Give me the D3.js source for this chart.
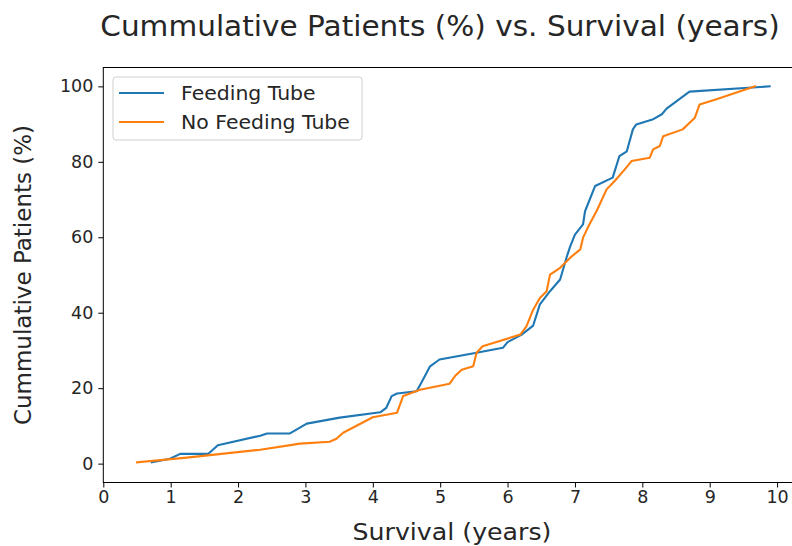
<!DOCTYPE html>
<html>
<head>
<meta charset="utf-8">
<script src="https://cdn.jsdelivr.net/npm/d3@7"></script>
<style>
  html, body { margin: 0; padding: 0; background: #fff; }
  svg { display: block; font-family: "DejaVu Sans", sans-serif; }
</style>
</head>
<body>
<svg id="chart" width="792" height="546"></svg>
<script>
// Survival (years) and cumulative share of patients (%) for each group
const feedingYears = [0.72, 0.99, 1.14, 1.56, 1.70, 2.33, 2.43, 2.77, 3.02, 3.51, 4.11, 4.20, 4.28, 4.36, 4.65, 4.70, 4.85, 4.99, 5.54, 5.93, 6.00, 6.21, 6.38, 6.48, 6.63, 6.78, 6.88, 6.93, 7.00, 7.12, 7.15, 7.30, 7.56, 7.66, 7.77, 7.86, 7.91, 8.15, 8.29, 8.36, 8.70, 9.89];
const feedingPct   = [0.35, 1.3, 2.6, 2.6, 4.9, 7.4, 8.0, 8.0, 10.6, 12.2, 13.6, 14.8, 17.9, 18.6, 19.2, 20.8, 25.8, 27.6, 29.4, 30.7, 32.2, 34.2, 36.6, 42.2, 45.7, 48.8, 54.9, 57.6, 60.7, 63.4, 66.9, 73.6, 75.8, 81.5, 82.8, 88.6, 89.9, 91.2, 92.6, 94.1, 98.6, 100];

const noFeedingYears = [0.50, 1.24, 2.33, 2.92, 3.36, 3.46, 3.56, 4.00, 4.36, 4.45, 4.70, 5.14, 5.22, 5.32, 5.49, 5.54, 5.63, 6.19, 6.28, 6.38, 6.48, 6.58, 6.63, 6.78, 6.93, 7.08, 7.12, 7.22, 7.32, 7.47, 7.59, 7.74, 7.84, 8.11, 8.16, 8.26, 8.31, 8.60, 8.78, 8.85, 9.10, 9.67];
const noFeedingPct   = [0.35, 1.6, 3.7, 5.3, 5.8, 6.6, 8.2, 12.3, 13.5, 17.9, 19.6, 21.2, 23.2, 24.9, 25.8, 29.4, 31.1, 34.2, 36.4, 40.8, 43.9, 45.7, 50.1, 51.9, 54.6, 56.8, 59.9, 63.6, 66.9, 72.7, 74.9, 78.0, 80.2, 81.1, 83.3, 84.2, 86.8, 88.6, 91.7, 95.2, 96.6, 100];

const seriesNames = ["Feeding Tube", "No Feeding Tube"];
const xTicks = [0, 1, 2, 3, 4, 5, 6, 7, 8, 9, 10];
const yTicks = [0, 20, 40, 60, 80, 100];

const series = [
  { name: seriesNames[0], color: "#1f77b4", pts: feedingYears.map((x, i) => [x, feedingPct[i]]) },
  { name: seriesNames[1], color: "#ff7f0e", pts: noFeedingYears.map((x, i) => [x, noFeedingPct[i]]) }
];

const svg = d3.select("#chart");
const plot = { left: 103.3, right: 802, top: 67.5, bottom: 482.5 };
const textColor = "#262626";
const wide = 1.075; // horizontal text stretch

const x = d3.scaleLinear().domain([0, 10.37]).range([plot.left, plot.right]);
const y = d3.scaleLinear().domain([-5, 105]).range([plot.bottom, plot.top]);

// Axes
const xAxis = svg.append("g")
  .attr("transform", `translate(0,${plot.bottom})`)
  .call(d3.axisBottom(x).tickValues(xTicks).tickFormat(d3.format("d")).tickSize(5).tickPadding(3));
const yAxis = svg.append("g")
  .attr("transform", `translate(${plot.left},0)`)
  .call(d3.axisLeft(y).tickValues(yTicks).tickFormat(d3.format("d")).tickSize(5).tickPadding(5));

[xAxis, yAxis].forEach(g => {
  g.select(".domain").remove();
  g.selectAll(".tick line").attr("stroke", "#000").attr("stroke-width", 1);
  g.selectAll(".tick text").attr("fill", textColor).style("font-size", "17.5px").style("font-family", "DejaVu Sans");
});

// Frame
svg.append("rect")
  .attr("x", plot.left).attr("y", plot.top)
  .attr("width", plot.right - plot.left).attr("height", plot.bottom - plot.top)
  .attr("fill", "none").attr("stroke", "#000").attr("stroke-width", 1);

// Lines
const line = d3.line().x(d => x(d[0])).y(d => y(d[1]));
svg.append("g").selectAll("path").data(series).join("path")
  .attr("d", d => line(d.pts))
  .attr("fill", "none")
  .attr("stroke", d => d.color)
  .attr("stroke-width", 2.1)
  .attr("stroke-linejoin", "round")
  .attr("stroke-linecap", "square");

// Horizontal text helper with a slight widening
function label(px, py, str, size, anchor) {
  return svg.append("text")
    .attr("transform", `translate(${px},${py}) scale(${wide},1)`)
    .attr("text-anchor", anchor).attr("fill", textColor)
    .style("font-size", size + "px")
    .text(str);
}

// Legend
const legend = svg.append("g");
legend.append("rect")
  .attr("x", 113).attr("y", 77).attr("width", 249).attr("height", 63)
  .attr("rx", 3).attr("fill", "#fff").attr("fill-opacity", 0.8)
  .attr("stroke", "#d0d0d0").attr("stroke-width", 1);
series.forEach((s, i) => {
  const yy = 93 + i * 29;
  legend.append("line")
    .attr("x1", 119).attr("x2", 164).attr("y1", yy).attr("y2", yy)
    .attr("stroke", s.color).attr("stroke-width", 2.1);
  label(181, yy + 7, s.name, 19, "start");
});

// Titles
label(440, 36, "Cummulative Patients (%) vs. Survival (years)", 27.5, "middle");
label(452, 540, "Survival (years)", 23.5, "middle");

svg.append("text")
  .attr("transform", "translate(31,275) rotate(-90)")
  .attr("text-anchor", "middle").attr("fill", textColor)
  .style("font-size", "23px")
  .text("Cummulative Patients (%)");
</script>
</body>
</html>
